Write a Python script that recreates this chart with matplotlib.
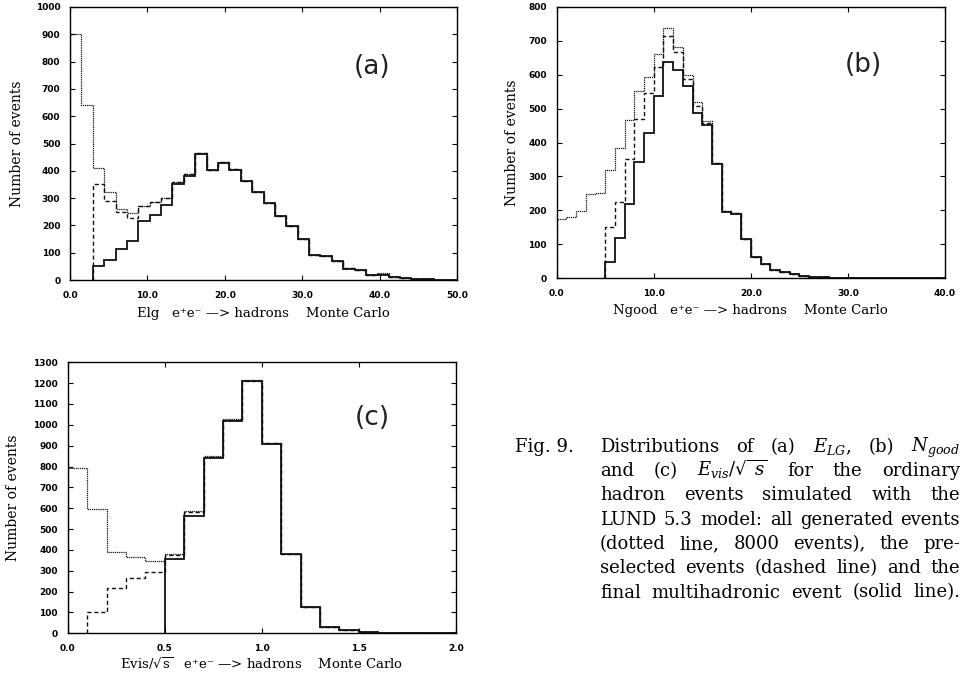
import numpy as np
import matplotlib
matplotlib.use('Agg')
import matplotlib.pyplot as plt

plt.rcParams['mathtext.fontset'] = 'dejavuserif'

# (a) E_LG, 34 bins from 0 to 50
a_edges = np.linspace(0, 50, 35)
a_all = np.array([900, 640, 411, 323, 261, 244, 271, 286, 300, 360, 387, 464, 403, 431, 405, 364, 323,
                  283, 236, 198, 150, 92, 88, 71, 43, 38, 18, 24, 12, 7, 4, 2, 1, 1])
a_presel = np.array([0, 0, 353, 289, 250, 228, 271, 286, 300, 358, 387, 464, 403, 431, 405, 364, 323,
                     283, 236, 198, 150, 92, 88, 71, 43, 38, 18, 22, 12, 7, 4, 2, 1, 1])
a_final = np.array([0, 0, 51, 73, 112, 144, 215, 239, 274, 350, 382, 462, 402, 430, 404, 363, 322,
                    282, 235, 197, 149, 91, 87, 70, 42, 37, 17, 20, 11, 6, 4, 2, 1, 1])

# (b) N_good, integer bins 0..40
b_edges = np.arange(0, 41)
b_all = np.array([175, 180, 199, 247, 251, 319, 385, 466, 551, 594, 660, 737, 680, 598, 518, 464, 339,
                  197, 191, 116, 62, 42, 24, 18, 12, 8, 4, 3, 2, 1, 1, 0, 0, 0, 0, 0, 0, 0, 0, 0])
b_presel = np.array([0, 0, 0, 0, 0, 152, 226, 350, 470, 545, 623, 713, 666, 588, 507, 457, 339,
                     197, 191, 116, 62, 42, 24, 18, 12, 8, 4, 3, 2, 1, 1, 0, 0, 0, 0, 0, 0, 0, 0, 0])
b_final = np.array([0, 0, 0, 0, 0, 49, 118, 219, 342, 427, 537, 636, 615, 566, 486, 451, 337,
                    196, 190, 115, 62, 42, 24, 18, 12, 8, 4, 3, 2, 1, 1, 0, 0, 0, 0, 0, 0, 0, 0, 0])

# (c) Evis/sqrt(s), bins of 0.1 from 0 to 2
c_edges = np.linspace(0, 2, 21)
c_all = np.array([795, 596, 392, 368, 349, 381, 588, 851, 1027, 1215, 911, 381, 125, 32, 16, 8, 3, 1, 0, 0])
c_presel = np.array([0, 104, 219, 264, 293, 375, 580, 846, 1024, 1212, 911, 381, 125, 32, 16, 8, 3, 1, 0, 0])
c_final = np.array([0, 0, 0, 0, 0, 357, 563, 839, 1020, 1209, 910, 380, 124, 32, 16, 8, 3, 1, 0, 0])

caption_lines = [
    ['Distributions', 'of', '(a)', '$E_{LG}$,', '(b)', '$N_{good}$'],
    ['and', '(c)', r'$E_{vis}/\sqrt{\ s}$', 'for', 'the', 'ordinary'],
    ['hadron', 'events', 'simulated', 'with', 'the'],
    ['LUND', '5.3', 'model:', 'all', 'generated', 'events'],
    ['(dotted', 'line,', '8000', 'events),', 'the', 'pre-'],
    ['selected', 'events', '(dashed', 'line)', 'and', 'the'],
    ['final', 'multihadronic', 'event', '(solid', 'line).'],
]

W, H = 964, 678
fig = plt.figure(figsize=(W / 100, H / 100), dpi=100)

lab_font = dict(family=['DejaVu Serif', 'DejaVu Sans'], size=9.5)
tick_font = dict(family='DejaVu Sans', weight='bold', size=6.5)


def step(ax, vals, edges, **kw):
    # skip leading empty bins so the line starts with its own vertical edge
    first = np.nonzero(vals)[0][0]
    ax.stairs(vals[first:], edges[first:], baseline=0, color='#111111', **kw)


def panel(rect, edges, all_v, pre_v, fin_v, xticks, xfmt, ymax, xlabel, letter, ylab_x, xlab_y, letter_xy):
    ax = fig.add_axes(rect)
    step(ax, all_v, edges, lw=0.9, ls=(0, (1, 0.7)))
    step(ax, pre_v, edges, lw=1.0, ls=(0, (3, 2)))
    step(ax, fin_v, edges, lw=1.3)
    ax.set_xlim(edges[0], edges[-1])
    ax.set_ylim(0, ymax)
    ax.set_xticks(xticks)
    ax.set_xticklabels([xfmt % t for t in xticks], **tick_font)
    yt = np.arange(0, ymax + 1, 100)
    ax.set_yticks(yt)
    ax.set_yticklabels([str(v) for v in yt], **tick_font)
    ax.tick_params(direction='in', top=True, right=True, length=3.5, width=0.8)
    ax.tick_params(axis='y', pad=7)
    ax.tick_params(axis='x', pad=8)
    for s in ax.spines.values():
        s.set_linewidth(1.0)
    ax.set_ylabel('Number of events', va='center', **dict(lab_font, size=10))
    ax.yaxis.set_label_coords(ylab_x, 0.5)
    ax.set_xlabel(xlabel, va='center', **lab_font)
    ax.xaxis.set_label_coords(0.5, xlab_y)
    ax.text(letter_xy[0], letter_xy[1], letter, transform=ax.transAxes, ha='center', va='center',
            fontsize=19, family='DejaVu Sans', color='#222222')
    return ax


panel([70 / W, 1 - 280 / H, 387 / W, 273 / H], a_edges, a_all, a_presel, a_final,
      [0, 10, 20, 30, 40, 50], '%.1f', 1000,
      'Elg   e\u207ae\u207b \u2014> hadrons    Monte Carlo', '(a)', -53 / 387, -33 / 273, (0.78, 0.78))
panel([556.7 / W, 1 - 278.3 / H, 388.3 / W, 271.6 / H], b_edges, b_all, b_presel, b_final,
      [0, 10, 20, 30, 40], '%.1f', 800,
      'Ngood   e\u207ae\u207b \u2014> hadrons    Monte Carlo', '(b)', -45 / 388, -32 / 271.6, (0.79, 0.785))
panel([67.7 / W, 1 - 633.3 / H, 388 / W, 271 / H], c_edges, c_all, c_presel, c_final,
      [0, 0.5, 1.0, 1.5, 2.0], '%.1f', 1300,
      r'Evis/$\sqrt{\mathrm{s}}$   e' + '\u207ae\u207b \u2014> hadrons    Monte Carlo', '(c)',
      -55 / 388, -30 / 271, (0.786, 0.793))

# caption, justified line by line
cap_font = dict(family='DejaVu Serif', size=13, va='baseline')
fig.text(515 / W, 1 - 451.7 / H, 'Fig. 9.', **cap_font)
x0, x1 = 600, 960
renderer = fig.canvas.get_renderer()
for i, words in enumerate(caption_lines):
    yb = 1 - (451.7 + 24.3 * i) / H
    texts = [fig.text(0, yb, w, **cap_font) for w in words]
    widths = [t.get_window_extent(renderer).width for t in texts]
    gap = (x1 - x0 - sum(widths)) / (len(words) - 1)
    x = x0
    for t, wd in zip(texts, widths):
        t.set_x(x / W)
        x += wd + gap

fig.savefig('out.png', dpi=100)
